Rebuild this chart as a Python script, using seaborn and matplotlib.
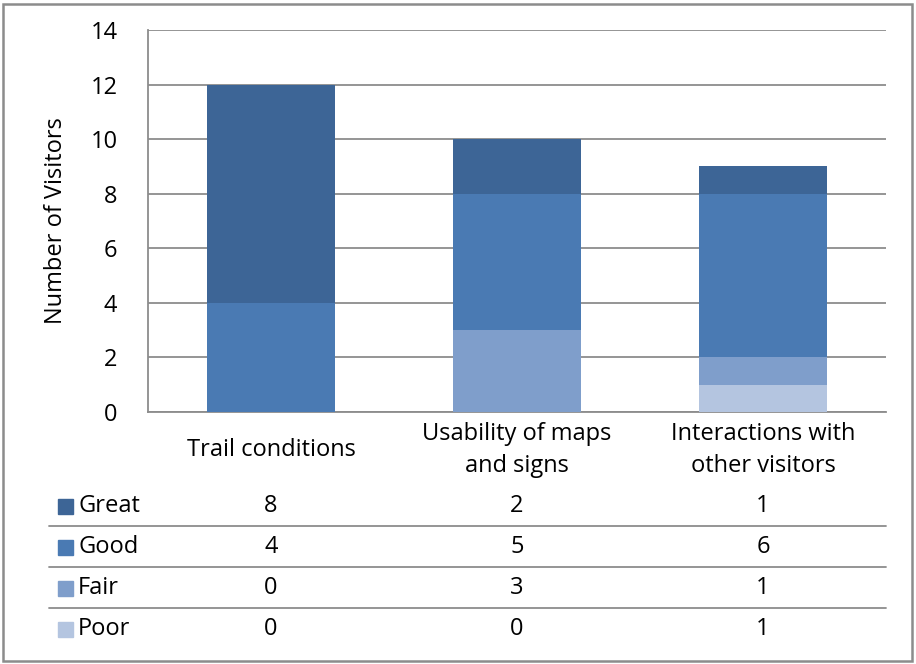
import matplotlib
matplotlib.use("Agg")
import matplotlib.pyplot as plt
import seaborn as sns
import numpy as np
from matplotlib.patches import Rectangle
from matplotlib.lines import Line2D
from matplotlib.transforms import blended_transform_factory

categories = ["Trail conditions", "Usability of maps\nand signs", "Interactions with\nother visitors"]
levels = ["Great", "Good", "Fair", "Poor"]
great = [8, 2, 1]
good = [4, 5, 6]
fair = [0, 3, 1]
poor = [0, 0, 1]
colors = ["#3d6596", "#4a7ab3", "#7f9ecb", "#b4c5e0"]

FS = 17

sns.set_theme(style="white")
plt.rcParams["font.family"] = ["Open Sans", "DejaVu Sans"]

fig = plt.figure(figsize=(9.16, 6.64), dpi=100)
ax = fig.add_axes([148 / 916, 1 - 412 / 664, (886 - 148) / 916, (412 - 30) / 664])

# stacked bars: draw cumulative totals from the top layer down
values = [great, good, fair, poor]
x = list(range(len(categories)))
for i, col in enumerate(colors):
    cum = np.sum(values[i:], axis=0)
    sns.barplot(x=x, y=cum, color=col, saturation=1, width=0.52,
                edgecolor="none", linewidth=0, ax=ax, zorder=3)

ax.set_ylim(0, 14)
ax.set_xlim(-0.5, 2.5)
ax.set_yticks(range(0, 15, 2))
ax.yaxis.grid(True, color="#8c8c8c", linewidth=1.3, zorder=0)
ax.set_axisbelow(True)
for s in ["top", "right"]:
    ax.spines[s].set_visible(False)
for s in ["left", "bottom"]:
    ax.spines[s].set_color("#8c8c8c")
    ax.spines[s].set_linewidth(1.3)
ax.tick_params(axis="y", length=0, pad=22, labelsize=FS, labelcolor="black")
ax.set_xticks([])
ax.set_xlabel("")
ax.set_ylabel("Number of Visitors", fontsize=FS, labelpad=16, color="black")

# category labels under the axis
trans = ax.get_xaxis_transform()
for xi, cat in zip(x, categories):
    ax.text(xi, -0.1, cat, transform=trans, ha="center", va="center",
            fontsize=FS, linespacing=1.42, color="black")

# data table below the chart
tbl = blended_transform_factory(ax.transData, fig.transFigure)
row_y = [506, 547, 588, 629]
for lvl, col, vals, ry in zip(levels, colors, values, row_y):
    fy = 1 - ry / 664
    fig.patches.append(Rectangle((58 / 916, fy - 7.5 / 664), 15 / 916, 15 / 664,
                                 transform=fig.transFigure, color=col))
    fig.text(78 / 916, fy, lvl, fontsize=FS, va="center", ha="left", color="black")
    for xi, v in zip(x, vals):
        ax.text(xi, fy, str(v), transform=tbl, ha="center", va="center",
                fontsize=FS, color="black")

for ly in [526, 567, 608]:
    fig.lines.append(Line2D([49 / 916, 886 / 916], [1 - ly / 664] * 2,
                            transform=fig.transFigure, color="#8c8c8c", linewidth=1.3))

# outer frame
fig.patches.append(Rectangle((3 / 916, 3 / 664), 909 / 916, 657 / 664, transform=fig.transFigure,
                             fill=False, edgecolor="#8c8c8c", linewidth=1.8))

fig.savefig("out.png", dpi=100)
